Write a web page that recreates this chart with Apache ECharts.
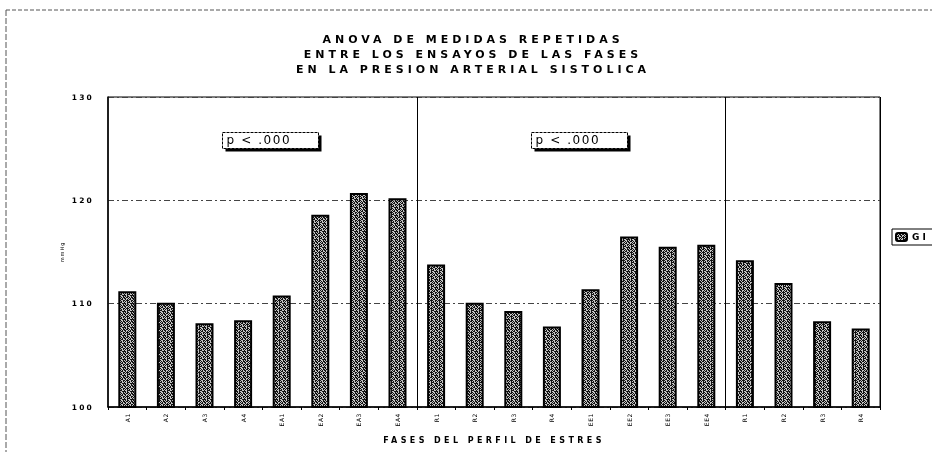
<!DOCTYPE html>
<html>
<head>
<meta charset="utf-8">
<script src="https://cdn.jsdelivr.net/npm/echarts@6/dist/echarts.min.js"></script>
<style>
  html, body { margin: 0; padding: 0; background: #ffffff; }
  #chart { width: 932px; height: 452px; }
  #chart svg { will-change: transform; }
</style>
</head>
<body>
<div id="chart"></div>
<script>
// Phases of the stress profile (x axis)
const categories = ['A1', 'A2', 'A3', 'A4', 'EA1', 'EA2', 'EA3', 'EA4',
                    'R1', 'R2', 'R3', 'R4', 'EE1', 'EE2', 'EE3', 'EE4',
                    'R1', 'R2', 'R3', 'R4'];
// Mean systolic blood pressure (mmHg), group GI
const giValues = [111.2, 110.1, 108.1, 108.4, 110.8, 118.6, 120.7, 120.2,
                  113.8, 110.1, 109.3, 107.8, 111.4, 116.5, 115.5, 115.7,
                  114.2, 112.0, 108.3, 107.6];
const yTicks = [100, 110, 120, 130];
// Category boundaries that separate the phase blocks
const blockBreaks = [8, 16];
const titleLines = ['ANOVA DE MEDIDAS REPETIDAS',
                    'ENTRE LOS ENSAYOS DE LAS FASES',
                    'EN LA PRESION ARTERIAL SISTOLICA'];
const pLabels = ['p < .000', 'p < .000'];

// Speckled fill used for the bars
function makeSpeckle() {
  const rows = [
    '#..#.#.#',
    '.#.##.##',
    '#.#.##..',
    '.##..#.#',
    '#..##.##',
    '.#.#.#.#',
    '##..#..#',
    '..####.#'
  ];
  const c = document.createElement('canvas');
  c.width = 8; c.height = 8;
  const ctx = c.getContext('2d');
  ctx.fillStyle = '#c4c4c4';
  ctx.fillRect(0, 0, 8, 8);
  ctx.fillStyle = '#111111';
  rows.forEach((r, y) => {
    for (let x = 0; x < r.length; x++) {
      if (r[x] === '#') ctx.fillRect(x, y, 1, 1);
    }
  });
  return c;
}
const speckle = { image: makeSpeckle(), repeat: 'repeat', imageWidth: 8, imageHeight: 8 };

const FONT = 'DejaVu Sans';
// Tracking (letter spacing) per font size, applied to the SVG text nodes
const tracking = { '11px': 4, '8px': 3.4, '7.5px': 2.2, '9px': 3, '12px': 1.6, '6px': 0.6, '5px': 1 };

const chart = echarts.init(document.getElementById('chart'), null, { renderer: 'svg' });

function pBox(x, y, text) {
  return {
    type: 'group',
    left: x, top: y,
    children: [
      { type: 'rect', shape: { x: 3, y: 3, width: 96, height: 16 },
        style: { fill: '#000' } },
      { type: 'rect', shape: { x: 0, y: 0, width: 96, height: 16 },
        style: { fill: '#fff', stroke: '#000', lineWidth: 1, lineDash: [3, 1] } },
      { type: 'text', x: 4, y: 1,
        style: { text: text, font: '12px "' + FONT + '"', fill: '#000' } }
    ]
  };
}

chart.setOption({
  backgroundColor: '#ffffff',
  animation: false,
  title: {
    text: titleLines.join('\n'),
    left: 468, top: 27,
    textAlign: 'center',
    textStyle: {
      fontFamily: FONT, fontWeight: 'bold', fontSize: 11,
      lineHeight: 15, color: '#000'
    }
  },
  legend: {
    data: ['GI'],
    left: 892, top: 229,
    orient: 'vertical',
    itemWidth: 11, itemHeight: 8, itemGap: 4,
    borderColor: '#000', borderWidth: 1, padding: [3, 10, 3, 3],
    textStyle: { fontFamily: FONT, fontWeight: 'bold', fontSize: 9, color: '#000' }
  },
  grid: {
    left: 108, right: 52, top: 97, bottom: 45,
    show: true, borderColor: '#000', borderWidth: 1
  },
  xAxis: {
    type: 'category',
    data: categories,
    name: 'FASES DEL PERFIL DE ESTRES',
    nameLocation: 'middle',
    nameGap: 29,
    nameTextStyle: { fontFamily: FONT, fontWeight: 'bold', fontSize: 8, color: '#000' },
    axisLine: { lineStyle: { color: '#000', width: 1.5 } },
    axisTick: { show: true, alignWithLabel: false, length: 3, lineStyle: { color: '#000' } },
    axisLabel: { rotate: 90, fontFamily: FONT, fontSize: 6, color: '#000', margin: 6 },
    splitLine: {
      show: true,
      interval: (idx) => blockBreaks.indexOf(idx) >= 0,
      lineStyle: { color: '#000', width: 1, type: 'solid' }
    }
  },
  yAxis: {
    type: 'value',
    min: yTicks[0], max: yTicks[yTicks.length - 1], interval: 10,
    name: 'mmHg',
    nameLocation: 'middle',
    nameRotate: 90,
    nameGap: 44,
    nameTextStyle: { fontFamily: FONT, fontSize: 5, color: '#000' },
    axisLine: { show: true, lineStyle: { color: '#000', width: 1.5 } },
    axisTick: { show: false },
    axisLabel: { fontFamily: FONT, fontWeight: 'bold', fontSize: 7.5, color: '#000', margin: 14 },
    splitLine: { show: true, lineStyle: { color: '#444', width: 1, type: [6, 3, 2, 3] } }
  },
  series: [{
    name: 'GI',
    type: 'bar',
    data: giValues,
    barWidth: 18,
    itemStyle: { color: speckle, borderColor: '#000', borderWidth: 2 }
  }],
  graphic: [
    { type: 'line', shape: { x1: 6, y1: 10, x2: 932, y2: 10 },
      style: { stroke: '#555', lineWidth: 1, lineDash: [4, 2] } },
    { type: 'line', shape: { x1: 6, y1: 10, x2: 6, y2: 452 },
      style: { stroke: '#555', lineWidth: 1, lineDash: [6, 2] } },
    pBox(222, 132, pLabels[0]),
    pBox(531, 132, pLabels[1])
  ]
});

// Widen the letter spacing of the labels, as in the printed figure
function applyTracking() {
  document.querySelectorAll('#chart svg text').forEach((t) => {
    const fs = getComputedStyle(t).fontSize;
    if (tracking[fs] != null) t.setAttribute('letter-spacing', tracking[fs]);
  });
}
applyTracking();
chart.on('finished', applyTracking);
</script>
</body>
</html>
